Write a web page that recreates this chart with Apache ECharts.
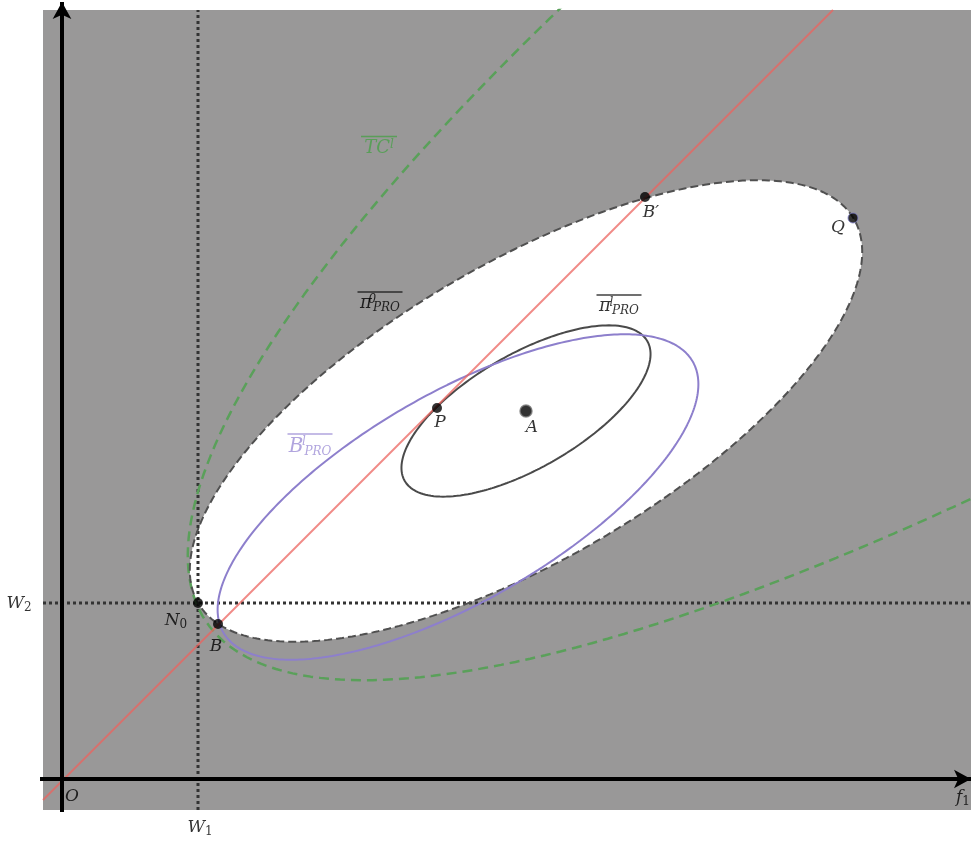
<!DOCTYPE html>
<html>
<head>
<meta charset="utf-8">
<script src="https://cdn.jsdelivr.net/npm/echarts@6/dist/echarts.min.js"></script>
<style>
  html, body { margin: 0; padding: 0; background: #fff; }
  #chart { width: 971px; height: 842px; }
</style>
</head>
<body>
<div id="chart"></div>
<script>
// 坐标: O 为原点, 1 单位 = 1 像素
var W1 = 136;
var W2 = 176;
// 椭圆: [cx, cy, a, b, 角度]
var ellipsePRO0 = [464, 368, 380, 148, 30.4];
var ellipsePROl = [464, 368, 140, 57, 30];
var ellipseBPRO = [396, 282, 271, 104, 30];
var ellipseTC = [1353, 967, 1455, 378, 33.8];
var redLine = [[-19, -21], [771, 769]];
var wLine1 = [[W1, -31], [W1, 769]];
var wLine2 = [[-19, W2], [909, W2]];
// 点
var ptNames = ['{i|N}{s|0}', '{i|B}', '{i|B′}', '{i|Q}', '{i|P}', '{i|A}'];
var ptX = [136, 156, 583, 791, 375, 464];
var ptY = [176, 155, 582, 561, 371, 368];
// 文字
var axisText = ['{i|O}', '{i|f}{s|1}', '{i|W}{s|1}', '{i|W}{s|2}'];
var axisTextAt = [[10, -18], [901, -19], [138, -49], [-43, 175]];
var curveText = [
  '{olg|}\n{gi|TC}{gsup|l}',
  '{ol|}\n{pi|π}{sup|0}{sub|PRO}',
  '{ol|}\n{pi|π}{sup|l}{sub|PRO}',
  '{olp|}\n{pb|B}{psup|l}{psub|PRO}'
];
var curveTextAt = [[317, 633], [318, 477], [557, 474], [248, 334]];

var FONT = "'DejaVu Serif', 'Liberation Serif', serif";

function ellipsePoints(e) {
  var th = e[4] * Math.PI / 180, pts = [];
  for (var k = 0; k <= 360; k++) {
    var t = k * Math.PI / 180;
    var u = e[2] * Math.cos(t), v = e[3] * Math.sin(t);
    pts.push([e[0] + u * Math.cos(th) - v * Math.sin(th), e[1] + u * Math.sin(th) + v * Math.cos(th)]);
  }
  return pts;
}

var whitePts = ellipsePoints(ellipsePRO0);

var chart = echarts.init(document.getElementById('chart'));

var option = {
  animation: false,
  grid: [
    { left: 43, top: 10, width: 928, height: 800, show: true, backgroundColor: '#999898', borderWidth: 0 },
    { left: 0, top: 0, width: 971, height: 842 }
  ],
  xAxis: [
    { gridIndex: 0, type: 'value', min: -19, max: 909, show: false },
    { gridIndex: 1, type: 'value', min: -62, max: 909, show: false }
  ],
  yAxis: [
    { gridIndex: 0, type: 'value', min: -31, max: 769, show: false },
    { gridIndex: 1, type: 'value', min: -63, max: 779, show: false }
  ],
  series: [
    {
      type: 'custom', xAxisIndex: 0, yAxisIndex: 0, silent: true, z: 1,
      data: [[0, 0]],
      renderItem: function (params, api) {
        return {
          type: 'polygon',
          shape: { points: whitePts.map(function (p) { return api.coord(p); }) },
          style: { fill: '#ffffff' }
        };
      }
    },
    {
      type: 'line', xAxisIndex: 0, yAxisIndex: 0, data: wLine1, showSymbol: false, silent: true, z: 2,
      lineStyle: { color: '#333', width: 3, type: [3, 3] }
    },
    {
      type: 'line', xAxisIndex: 0, yAxisIndex: 0, data: wLine2, showSymbol: false, silent: true, z: 2,
      lineStyle: { color: '#333', width: 3, type: [3, 3] }
    },
    {
      name: 'TC', type: 'line', xAxisIndex: 0, yAxisIndex: 0, data: ellipsePoints(ellipseTC),
      showSymbol: false, silent: true, z: 3,
      lineStyle: { color: '#5aa05a', width: 2.5, type: [10, 6] }
    },
    {
      name: 'PRO0', type: 'line', xAxisIndex: 0, yAxisIndex: 0, data: whitePts,
      showSymbol: false, silent: true, z: 3,
      lineStyle: { color: '#505050', width: 2, type: [8, 4] }
    },
    {
      name: 'PROl', type: 'line', xAxisIndex: 0, yAxisIndex: 0, data: ellipsePoints(ellipsePROl),
      showSymbol: false, silent: true, z: 3,
      lineStyle: { color: '#4a4a4a', width: 2 }
    },
    {
      name: 'BPRO', type: 'line', xAxisIndex: 0, yAxisIndex: 0, data: ellipsePoints(ellipseBPRO),
      showSymbol: false, silent: true, z: 3,
      lineStyle: { color: '#8d7fcc', width: 2 }
    },
    {
      type: 'line', xAxisIndex: 0, yAxisIndex: 0, data: redLine, showSymbol: false, silent: true, z: 4,
      lineStyle: { color: 'rgba(235,100,95,0.75)', width: 2 }
    },
    {
      // 坐标轴
      type: 'line', xAxisIndex: 1, yAxisIndex: 1, data: [], silent: true, z: 6,
      markLine: {
        silent: true, animation: false,
        symbol: ['none', 'arrow'], symbolSize: [14, 17],
        label: { show: false },
        lineStyle: { color: '#000', width: 4, type: 'solid' },
        emphasis: { disabled: true },
        data: [
          [{ coord: [-22, 0] }, { coord: [909, 0] }],
          [{ coord: [0, -33] }, { coord: [0, 777] }]
        ]
      }
    },
    {
      type: 'scatter', xAxisIndex: 1, yAxisIndex: 1, silent: true, z: 8,
      symbolSize: 10,
      itemStyle: { color: '#000' },
      data: ptX.map(function (x, i) {
        var item = { value: [x, ptY[i]], name: ptNames[i] };
        if (i === 5) { item.symbolSize = 12; item.itemStyle = { borderColor: '#777', borderWidth: 1.5 }; }
        if (i === 3) { item.itemStyle = { borderColor: '#7f7fc8', borderWidth: 1 }; }
        item.label = { offset: [[-22, 18], [-2, 23], [6, 16], [-15, 10], [3, 15], [6, 17]][i] };
        return item;
      }),
      label: {
        show: true, position: 'inside', formatter: function (p) { return p.name; },
        rich: {
          i: { fontFamily: FONT, fontStyle: 'italic', fontSize: 17, color: '#000', lineHeight: 20 },
          s: { fontFamily: FONT, fontSize: 12, color: '#000', verticalAlign: 'bottom', lineHeight: 13 }
        }
      }
    },
    {
      type: 'scatter', xAxisIndex: 1, yAxisIndex: 1, silent: true, z: 9,
      symbolSize: 1, itemStyle: { color: 'rgba(0,0,0,0)' },
      data: axisText.map(function (t, i) { return { value: axisTextAt[i], name: t }; })
        .concat(curveText.map(function (t, i) { return { value: curveTextAt[i], name: t }; })),
      label: {
        show: true, position: 'inside', formatter: function (p) { return p.name; },
        rich: {
          i: { fontFamily: FONT, fontStyle: 'italic', fontSize: 17, color: '#000', lineHeight: 20 },
          s: { fontFamily: FONT, fontSize: 12, color: '#000', verticalAlign: 'bottom', lineHeight: 13 },
          ol: { width: 45, height: 1.5, backgroundColor: '#111', lineHeight: 3 },
          pi: { fontFamily: FONT, fontStyle: 'italic', fontSize: 18, color: '#000', lineHeight: 20 },
          sup: { fontFamily: FONT, fontStyle: 'italic', fontSize: 12, color: '#000', verticalAlign: 'top', lineHeight: 11, width: 1, align: 'left' },
          sub: { fontFamily: FONT, fontStyle: 'italic', fontSize: 12, color: '#000', verticalAlign: 'bottom', lineHeight: 12 },
          olg: { width: 36, height: 1.5, backgroundColor: '#4aa04a', lineHeight: 4 },
          gi: { fontFamily: FONT, fontStyle: 'italic', fontSize: 18, color: '#4aa04a', lineHeight: 19 },
          gsup: { fontFamily: FONT, fontStyle: 'italic', fontSize: 12, color: '#4aa04a', verticalAlign: 'top', lineHeight: 12 },
          olp: { width: 45, height: 1.5, backgroundColor: '#9d8fd6', lineHeight: 3 },
          pb: { fontFamily: FONT, fontStyle: 'italic', fontSize: 20, color: '#9d8fd6', lineHeight: 22 },
          psup: { fontFamily: FONT, fontStyle: 'italic', fontSize: 12, color: '#9d8fd6', verticalAlign: 'top', lineHeight: 11, width: 1, align: 'left' },
          psub: { fontFamily: FONT, fontStyle: 'italic', fontSize: 12, color: '#9d8fd6', verticalAlign: 'bottom', lineHeight: 12 }
        }
      }
    }
  ]
};

chart.setOption(option);
</script>
</body>
</html>
